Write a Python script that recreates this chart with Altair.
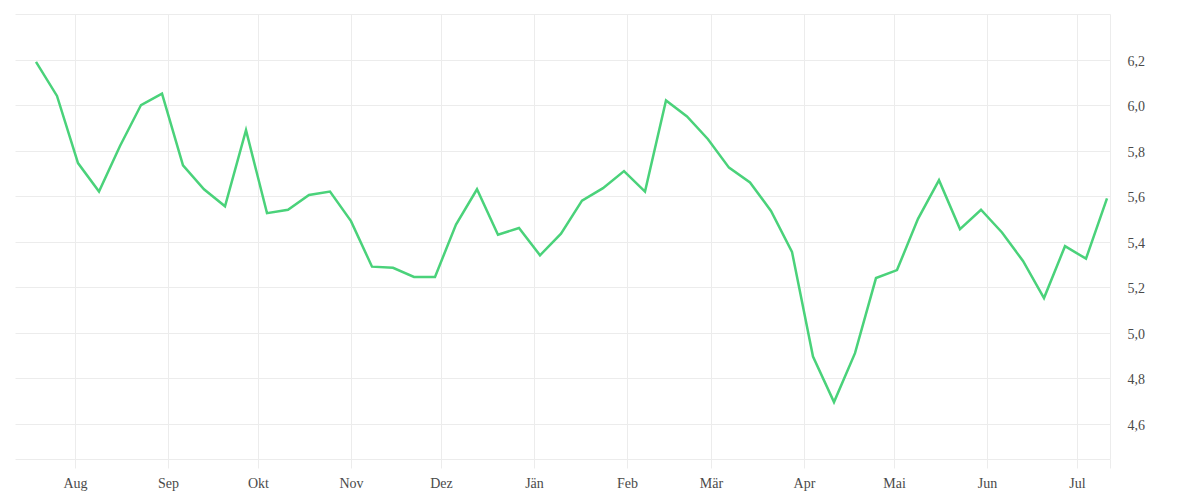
import altair as alt
import pandas as pd

start_date = "2024-07-19"
n_weeks = 52
values = [
    6.19, 6.04, 5.745, 5.62, 5.82, 6.00, 6.05, 5.735, 5.63, 5.555,
    5.89, 5.525, 5.54, 5.605, 5.62, 5.49, 5.29, 5.285, 5.245, 5.245,
    5.475, 5.63, 5.43, 5.46, 5.34, 5.435, 5.58, 5.635, 5.71, 5.62,
    6.02, 5.95, 5.85, 5.725, 5.66, 5.535, 5.355, 4.895, 4.695, 4.91,
    5.24, 5.275, 5.50, 5.67, 5.455, 5.54, 5.44, 5.315, 5.152, 5.38,
    5.325, 5.59,
]
month_names = ["Jän", "Feb", "Mär", "Apr", "Mai", "Jun", "Jul", "Aug", "Sep", "Okt", "Nov", "Dez"]
month_ticks = [(2024, 8), (2024, 9), (2024, 10), (2024, 11), (2024, 12), (2025, 1),
               (2025, 2), (2025, 3), (2025, 4), (2025, 5), (2025, 6), (2025, 7)]
x_domain = ["2024-07-12", "2025-07-12"]
y_domain = [4.445, 6.4]
y_ticks = [4.445, 4.6, 4.8, 5.0, 5.2, 5.4, 5.6, 5.8, 6.0, 6.2, 6.4]

dates = pd.date_range(start_date, periods=n_weeks, freq="7D").strftime("%Y-%m-%d").tolist()
df = pd.DataFrame({"date": dates, "value": values})

x_values = [alt.DateTime(year=y, month=m, date=1, utc=True) for y, m in month_ticks]
x_values.append(alt.DateTime(year=2025, month=7, date=12, utc=True))

months_js = "[" + ",".join("'" + m + "'" for m in month_names) + "]"

FONT = "Liberation Serif"
GRID = "#ececec"
LABEL = "#4a4a4a"

chart = alt.Chart(df).mark_line(color="#4ad27a", strokeWidth=2.5).encode(
    x=alt.X(
        "date:T",
        scale=alt.Scale(type="utc", domain=x_domain),
        axis=alt.Axis(
            title=None,
            values=x_values,
            labelExpr=f"utcdate(datum.value) == 1 ? {months_js}[utcmonth(datum.value)] : ''",
            grid=True,
            gridColor=GRID,
            ticks=True,
            tickColor=GRID,
            tickSize=9,
            domain=False,
            labelPadding=8,
            labelFont=FONT,
            labelFontSize=14,
            labelColor=LABEL,
        ),
    ),
    y=alt.Y(
        "value:Q",
        scale=alt.Scale(domain=y_domain, nice=False, zero=False),
        axis=alt.Axis(
            title=None,
            orient="right",
            values=y_ticks,
            labelExpr="datum.value < 4.5 || datum.value > 6.3 ? '' : replace(format(datum.value, '.1f'), '.', ',')",
            grid=True,
            gridColor=GRID,
            ticks=False,
            domain=False,
            labelPadding=17,
            labelOffset=1.5,
            labelFont=FONT,
            labelFontSize=14,
            labelColor=LABEL,
        ),
    ),
).properties(
    width=1095,
    height=445,
    padding={"left": 7, "top": 6, "right": 5, "bottom": 5},
).configure_view(stroke=None)

chart.save("out.html", embed_options={"renderer": "svg", "actions": False})
